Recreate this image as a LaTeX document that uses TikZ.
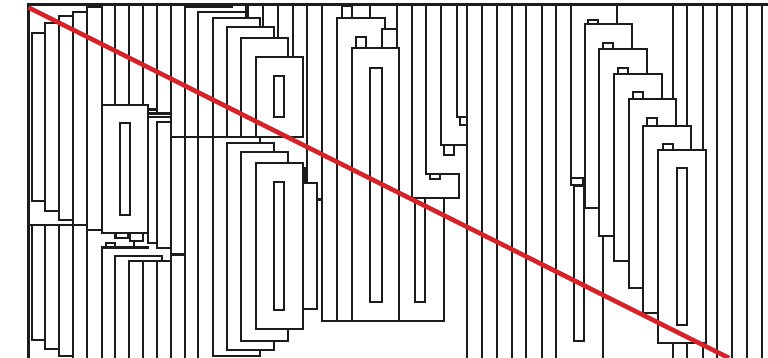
\documentclass[tikz,border=0pt]{standalone}
\usepackage{xcolor}
\definecolor{redline}{RGB}{213,36,41}
\definecolor{inkline}{RGB}{28,28,28}
\begin{document}
\begin{tikzpicture}[x=1pt,y=-1pt,
  ln/.style={line width=2.1pt, draw=inkline, line cap=rect},
  card/.style={line width=2.1pt, draw=inkline, fill=white, line join=miter},
  frame/.style={line width=3.4pt, draw=inkline},
  diag/.style={line width=4.6pt, draw=redline}]
\useasboundingbox (0,0) rectangle (768,358);
\fill[white] (0,0) rectangle (768,358);

% ---------- vertical segments  x / y1 / y2 ----------
\foreach \x/\a/\b in {
  31.7/33.3/200.7, 45/23.3/211.3, 59.3/16/219.7, 72.7/11.7/224.7, 87.3/7.3/229.7,
  31.7/224.7/340.3, 45/224.7/348.7, 59.3/224.7/356.3, 72.7/224.7/358, 87.3/229.7/358,
  101.7/4/105, 115/4/105, 129.3/4/105, 143.3/4/105, 156.7/4/113.5, 171/4/358, 185/7.3/358,
  148.3/233.3/243.3, 156.7/121.7/248, 133.6/240.7/247.5, 162.3/256.3/260.7,
  101.7/247.5/358, 115/256.3/358, 129.3/260.7/358, 143.3/260.7/358, 156.7/260.7/358,
  231.7/4/7.3, 198.3/11.7/358,
  246/4/11.7, 248.3/4/18.3, 262.7/4/26.7, 277.7/4/38.3, 293.3/4/56.7,
  307.3/4/183, 322.3/4/321.3, 305.5/168/183,
  337.3/18.3/321.3, 351.7/48.3/321.3, 399.3/48.3/321.3, 370/4/18.3, 385/18.3/29.3, 396.7/4/29.3,
  411.7/4/197.7, 426/4/174.3, 440.7/4/145, 456.7/4/117.3, 459.3/174.3/197.7, 444/197.7/321.3,
  466.7/4/358, 481.7/4/358, 496.7/4/358, 511.7/4/358, 526/4/358, 541.7/4/358, 556/4/358,
  570.7/4/184.7,
  616.7/4/24, 672.7/4/99, 687.3/4/125.7, 702.7/4/150,
  602.7/236/358, 672.7/343/358, 687.3/343/358, 702.7/343/358,
  716.7/4/358, 731.7/4/358, 746.7/4/358, 761.7/4/358}
  \draw[ln] (\x,\a) -- (\x,\b);

% ---------- horizontal segments  y / x1 / x2 ----------
\foreach \y/\a/\b in {
  33.3/31.7/45, 200.7/31.7/45, 23.3/45/59.3, 211.3/45/59.3, 16/59.3/72.7, 219.7/59.3/72.7,
  11.7/72.7/87.3, 7.3/87.3/101.7, 229.7/87.3/101.7, 224.7/29/87.3,
  340.3/31.7/45, 348.7/45/59.3, 356.3/59.3/72.7,
  109.5/148.3/156.7, 113.5/148.3/171, 117/148.3/171, 121.7/156.7/171,
  243.3/148.3/156.7, 248/156.7/171, 254.5/171/185, 136.7/171/302.7,
  247.5/101.7/148.3, 256.3/115/162.3, 260.7/129.3/171,
  7.3/185/231.7,
  18.3/337.3/385, 48.3/351.7/399.3, 321.3/322.3/444,
  117.3/456.7/466.7, 145/440.7/466.7, 174.3/426/459.3, 197.7/411.7/459.3,
  199.5/316.7/322.3}
  \draw[ln] (\a,\y) -- (\b,\y);

% ---------- left-middle box and tabs ----------
\draw[card] (101.7,105) rectangle (148.3,233.3);
\draw[card] (120,122.7) rectangle (130,215);
\draw[card] (115.5,233.3) rectangle (128.5,237.7);
\draw[card] (130,233.3) rectangle (143.3,240.7);
\draw[card] (106,243) rectangle (115,247.5);

% ---------- middle-left stacked cards (upper) ----------
\draw[card] (198.3,11.7) rectangle (246,136.7);
\draw[card] (212.7,18.3) rectangle (260,136.7);
\draw[card] (226.7,26.7) rectangle (274,136.7);
\draw[card] (241,38.3) rectangle (288.3,136.7);
\draw[card] (255.7,56.7) rectangle (302.7,136.7);
\draw[card] (274,75.7) rectangle (284.3,117.3);

% ---------- middle-left stacked cards (lower) ----------
\draw[card] (212.7,136.7) rectangle (260,356.3);
\draw[card] (226.7,143.3) rectangle (274,349.7);
\draw[card] (241,151.7) rectangle (288.3,341.3);
\draw[card] (255.7,163.3) rectangle (302.7,328.7);
\draw[card] (274,182) rectangle (284.3,310.3);
\draw[card] (302.7,183) rectangle (316.7,309);

% ---------- middle structure ----------
\draw[card] (341.7,6) rectangle (351.7,18.3);
\draw[card] (381.7,29.3) rectangle (396.7,48.3);
\draw[card] (356,37.3) rectangle (366,48.3);
\draw[card] (370,67.7) rectangle (381.7,302);
\draw[card] (460,117.3) rectangle (466.7,125);
\draw[card] (444,145) rectangle (454,155);
\draw[card] (430,174.3) rectangle (440,179);
\draw[card] (415,197.7) rectangle (425,302);

% ---------- right group ----------
\draw[card] (570.7,178) rectangle (583,184.7);
\draw[card] (574,186.3) rectangle (584,341.3);
\draw[card] (588,20) rectangle (598,24);
\draw[card] (585,24) rectangle (631.7,208);
\draw[card] (602.7,42.7) rectangle (613.3,49.3);
\draw[card] (599.3,49.3) rectangle (647.3,236);
\draw[card] (618,68.3) rectangle (628,74);
\draw[card] (614,74) rectangle (661.7,260.7);
\draw[card] (632.7,91.7) rectangle (642.7,99);
\draw[card] (628.7,99) rectangle (676,287.7);
\draw[card] (647.3,118.3) rectangle (657.3,125.7);
\draw[card] (643.3,125.7) rectangle (690.7,313);
\draw[card] (662.7,144.3) rectangle (672.7,150);
\draw[card] (658.3,150) rectangle (706,343);
\draw[card] (676.7,168.3) rectangle (687.3,324.7);

% ---------- frame ----------
\draw[frame] (27,4.5) -- (768,4.5);
\draw[frame] (28.5,3) -- (28.5,358);

% ---------- red diagonal ----------
\draw[diag] (28.5,7.5) -- (729,358);
\end{tikzpicture}
\end{document}
